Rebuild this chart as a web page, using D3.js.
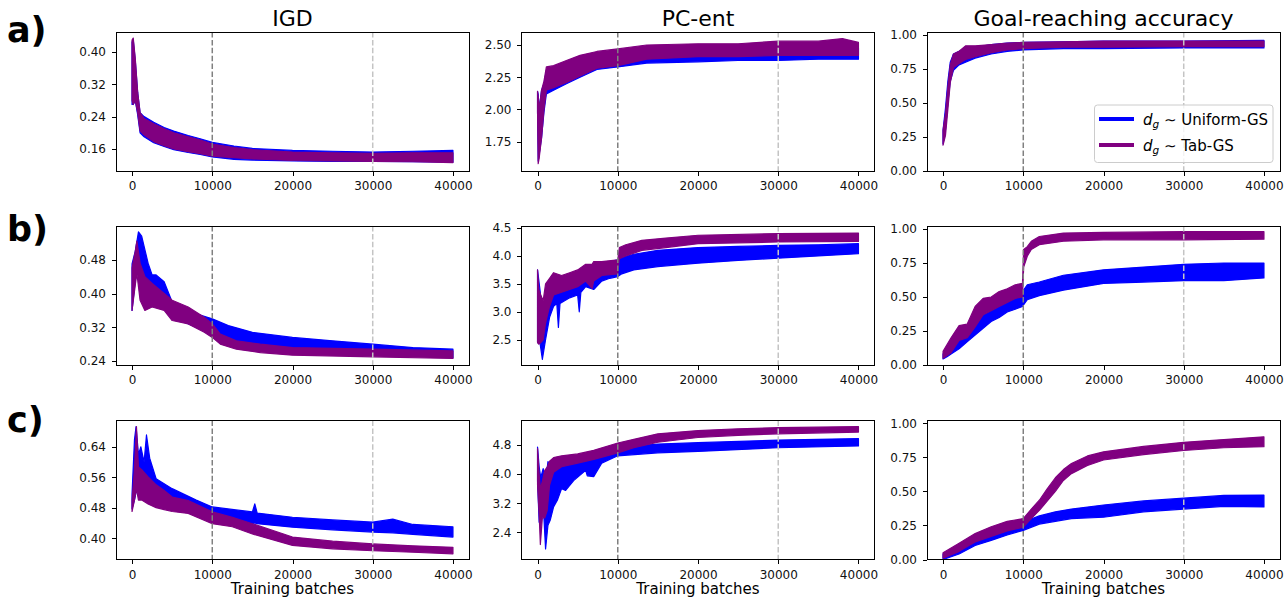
<meta charset="utf-8">
<style>
body { margin: 0; background: #fff; }
svg { font-family: "DejaVu Sans", sans-serif; }
.frame { fill: none; stroke: #000; stroke-width: 1; shape-rendering: crispEdges; }
.axis path { display: none; }
.axis line { stroke: #000; stroke-width: 1; shape-rendering: crispEdges; }
.axis text { font-size: 12px; fill: #111; font-family: "DejaVu Sans", sans-serif; }
</style>
<body>
<div id="chart"></div>
<script src="https://cdn.jsdelivr.net/npm/d3@7"></script>
<script>
// each series is a list of [batch, low edge, high edge]

// ---- row a ----
var igdA_uniform = [[0,0.27,0.425],[150,0.27,0.43],[400,0.28,0.38],[700,0.245,0.30],[1000,0.20,0.25],[1500,0.19,0.24],[2700,0.175,0.226],[4000,0.166,0.213],[5200,0.158,0.204],[7000,0.151,0.193],[8500,0.146,0.185],[10000,0.140,0.176],[12700,0.134,0.167],[15000,0.132,0.161],[20000,0.130,0.156],[25000,0.129,0.154],[30000,0.129,0.152],[35000,0.128,0.154],[40000,0.127,0.156]];
var igdA_tab = [[0,0.28,0.43],[150,0.27,0.435],[400,0.28,0.385],[700,0.25,0.30],[1000,0.205,0.25],[1500,0.195,0.235],[2700,0.178,0.222],[4000,0.168,0.21],[5200,0.16,0.20],[7000,0.153,0.19],[8500,0.148,0.182],[10000,0.142,0.172],[12700,0.138,0.163],[15000,0.135,0.158],[20000,0.131,0.152],[25000,0.130,0.150],[30000,0.129,0.149],[35000,0.128,0.150],[40000,0.126,0.150]];

var pcA_uniform = [[0,1.98,2.14],[80,1.60,2.12],[200,1.65,2.00],[500,1.78,2.15],[800,1.98,2.20],[1100,2.12,2.30],[2000,2.15,2.33],[3600,2.20,2.37],[5300,2.25,2.40],[7400,2.31,2.44],[10000,2.33,2.45],[13600,2.36,2.47],[20000,2.37,2.47],[25000,2.38,2.47],[30000,2.38,2.48],[35000,2.39,2.48],[40000,2.39,2.48]];
var pcA_tab = [[0,1.98,2.14],[80,1.58,2.10],[200,1.62,2.00],[500,1.78,2.15],[800,2.00,2.22],[1100,2.15,2.33],[2000,2.17,2.34],[3600,2.21,2.38],[5300,2.26,2.42],[7400,2.32,2.45],[10000,2.34,2.47],[13600,2.39,2.50],[20000,2.41,2.51],[25000,2.41,2.51],[30000,2.42,2.53],[35000,2.42,2.53],[38000,2.42,2.55],[40000,2.42,2.52]];

var goalA_uniform = [[0,0.20,0.30],[300,0.30,0.46],[600,0.50,0.66],[900,0.66,0.80],[1300,0.74,0.86],[2000,0.78,0.88],[2800,0.80,0.90],[4000,0.83,0.91],[6000,0.86,0.93],[8000,0.88,0.94],[10000,0.89,0.945],[15000,0.90,0.95],[20000,0.90,0.955],[30000,0.905,0.955],[40000,0.905,0.96]];
var goalA_tab = [[0,0.19,0.30],[300,0.26,0.42],[600,0.45,0.62],[900,0.65,0.78],[1300,0.76,0.86],[2000,0.79,0.88],[2800,0.82,0.92],[4000,0.84,0.92],[6000,0.87,0.93],[8000,0.89,0.94],[10000,0.90,0.945],[15000,0.91,0.95],[20000,0.91,0.955],[30000,0.915,0.955],[40000,0.915,0.955]];

// ---- row b ----
var igdB_uniform = [[0,0.36,0.47],[400,0.43,0.50],[800,0.464,0.546],[1200,0.448,0.536],[1600,0.432,0.504],[2000,0.408,0.472],[2500,0.392,0.444],[3000,0.384,0.444],[4000,0.376,0.428],[5000,0.344,0.38],[6000,0.336,0.368],[8000,0.32,0.352],[10000,0.304,0.34],[12000,0.292,0.324],[15000,0.28,0.308],[20000,0.268,0.296],[25000,0.26,0.288],[30000,0.256,0.28],[35000,0.252,0.272],[40000,0.248,0.268]];
var igdB_tab = [[0,0.36,0.46],[400,0.42,0.50],[600,0.448,0.524],[1000,0.384,0.472],[1600,0.36,0.44],[2500,0.368,0.424],[4000,0.36,0.40],[5000,0.336,0.384],[7000,0.328,0.368],[9000,0.308,0.344],[10000,0.296,0.328],[11000,0.28,0.304],[13000,0.268,0.288],[16000,0.26,0.28],[20000,0.254,0.272],[30000,0.25,0.268],[40000,0.246,0.264]];

var pcB_uniform = [[0,2.45,3.75],[300,2.45,3.40],[600,2.15,3.00],[1000,2.50,3.20],[1500,2.90,3.50],[2000,3.10,3.55],[2400,3.15,3.50],[2600,2.72,3.50],[2800,3.15,3.50],[4000,3.25,3.55],[5000,3.30,3.65],[5200,3.00,3.60],[5400,3.35,3.65],[6000,3.45,3.75],[7000,3.40,3.80],[8000,3.55,3.85],[9000,3.60,3.90],[10000,3.63,3.93],[10500,3.68,3.97],[12000,3.75,4.03],[15000,3.81,4.10],[20000,3.87,4.15],[25000,3.92,4.17],[30000,3.96,4.19],[35000,4.00,4.20],[40000,4.04,4.22]];
var pcB_tab = [[0,2.45,3.75],[150,2.42,3.40],[400,2.45,3.30],[700,2.50,3.20],[1000,2.80,3.50],[1500,3.10,3.60],[2000,3.30,3.70],[3000,3.35,3.65],[4000,3.40,3.70],[5000,3.45,3.75],[6000,3.55,3.85],[6800,3.42,3.85],[7000,3.55,3.90],[8000,3.65,3.90],[10000,3.68,3.93],[10200,3.95,4.15],[11000,4.00,4.20],[13000,4.10,4.28],[16000,4.15,4.32],[20000,4.22,4.37],[30000,4.25,4.40],[40000,4.26,4.41]];

var goalB_uniform = [[0,0.045,0.08],[500,0.06,0.13],[1000,0.08,0.155],[2000,0.12,0.20],[3000,0.17,0.27],[4000,0.22,0.32],[5000,0.27,0.365],[6000,0.32,0.40],[7000,0.35,0.45],[8000,0.39,0.48],[9000,0.41,0.51],[9900,0.43,0.54],[10500,0.48,0.59],[12000,0.51,0.61],[15000,0.55,0.66],[20000,0.60,0.70],[25000,0.61,0.72],[30000,0.62,0.74],[35000,0.62,0.75],[40000,0.64,0.75]];
var goalB_tab = [[0,0.05,0.10],[1000,0.09,0.20],[2000,0.18,0.29],[3000,0.20,0.30],[4000,0.28,0.43],[5000,0.37,0.49],[6000,0.40,0.50],[7000,0.43,0.54],[8000,0.46,0.56],[9000,0.49,0.59],[9900,0.50,0.60],[10050,0.72,0.85],[10500,0.80,0.87],[11000,0.85,0.91],[12000,0.885,0.945],[15000,0.91,0.97],[20000,0.92,0.975],[30000,0.92,0.98],[40000,0.925,0.98]];

// ---- row c ----
var igdC_uniform = [[0,0.477,0.517],[300,0.50,0.658],[500,0.52,0.693],[800,0.53,0.62],[1100,0.55,0.64],[1500,0.53,0.60],[1800,0.53,0.671],[2200,0.508,0.61],[3000,0.50,0.556],[5000,0.482,0.53],[8000,0.46,0.50],[10000,0.455,0.482],[15000,0.438,0.469],[15300,0.44,0.49],[15600,0.438,0.466],[20000,0.429,0.455],[25000,0.422,0.448],[30000,0.416,0.442],[32500,0.414,0.45],[35000,0.41,0.436],[40000,0.403,0.43]];
var igdC_tab = [[0,0.47,0.50],[300,0.50,0.58],[550,0.53,0.693],[800,0.50,0.587],[1200,0.50,0.58],[2000,0.49,0.561],[3000,0.48,0.54],[4000,0.475,0.525],[5000,0.47,0.508],[7000,0.465,0.499],[10000,0.438,0.469],[12500,0.43,0.455],[15000,0.411,0.438],[20000,0.381,0.403],[25000,0.372,0.392],[30000,0.367,0.385],[35000,0.363,0.38],[40000,0.359,0.376]];

var pcC_uniform = [[0,3.80,4.74],[200,2.68,4.20],[400,2.90,3.90],[700,3.20,4.15],[1000,1.95,3.80],[1300,2.60,4.34],[1600,2.75,4.20],[2000,3.10,4.30],[2500,3.30,4.40],[3000,3.60,4.45],[3500,3.55,4.45],[4500,3.82,4.45],[6000,4.10,4.50],[6200,3.95,4.50],[7000,3.93,4.55],[8000,4.30,4.60],[10000,4.50,4.74],[15000,4.58,4.82],[20000,4.62,4.86],[30000,4.72,4.93],[40000,4.77,4.97]];
var pcC_tab = [[0,3.70,4.70],[200,2.90,4.00],[350,2.07,3.60],[600,2.80,3.80],[900,2.80,4.10],[1200,3.00,4.19],[1500,3.70,4.35],[2000,4.05,4.45],[3000,4.20,4.50],[5000,4.30,4.55],[7000,4.40,4.65],[10000,4.58,4.85],[12000,4.72,4.95],[15000,4.87,5.10],[20000,5.00,5.19],[25000,5.06,5.24],[30000,5.10,5.27],[40000,5.15,5.30]];

var goalC_uniform = [[0,0.00,0.04],[2000,0.04,0.09],[4000,0.103,0.152],[6000,0.14,0.20],[8000,0.18,0.23],[10000,0.214,0.275],[12000,0.26,0.32],[14000,0.28,0.35],[16000,0.30,0.37],[20000,0.31,0.40],[25000,0.35,0.43],[30000,0.37,0.45],[35000,0.39,0.47],[40000,0.386,0.472]];
var goalC_tab = [[0,0.01,0.05],[2000,0.06,0.12],[4000,0.128,0.19],[6000,0.17,0.24],[8000,0.21,0.28],[10000,0.238,0.30],[11000,0.30,0.37],[12000,0.36,0.435],[13000,0.43,0.52],[14000,0.50,0.60],[15000,0.58,0.66],[16000,0.63,0.705],[18000,0.69,0.76],[20000,0.73,0.79],[25000,0.77,0.83],[30000,0.80,0.86],[35000,0.82,0.88],[40000,0.828,0.90]];

var rowLabels = ["a)", "b)", "c)"];
var colTitles = ["IGD", "PC-ent", "Goal-reaching accuracy"];
var xTicks = [0, 10000, 20000, 30000, 40000];
var phaseLines = [10000, 30000];
var legendLabels = ["Uniform-GS", "Tab-GS"];

var panels = [
  {row: 0, col: 0, y: [0.105, 0.450], ticks: [0.16, 0.24, 0.32, 0.40], fmt: ".2f", uni: igdA_uniform, tab: igdA_tab},
  {row: 0, col: 1, y: [1.523, 2.601], ticks: [1.75, 2.00, 2.25, 2.50], fmt: ".2f", uni: pcA_uniform, tab: pcA_tab},
  {row: 0, col: 2, y: [0, 1.022], ticks: [0, 0.25, 0.5, 0.75, 1.0], fmt: ".2f", uni: goalA_uniform, tab: goalA_tab},
  {row: 1, col: 0, y: [0.2306, 0.56], ticks: [0.24, 0.32, 0.40, 0.48], fmt: ".2f", uni: igdB_uniform, tab: igdB_tab},
  {row: 1, col: 1, y: [2.048, 4.536], ticks: [2.5, 3.0, 3.5, 4.0, 4.5], fmt: ".1f", uni: pcB_uniform, tab: pcB_tab},
  {row: 1, col: 2, y: [0, 1.022], ticks: [0, 0.25, 0.5, 0.75, 1.0], fmt: ".2f", uni: goalB_uniform, tab: goalB_tab},
  {row: 2, col: 0, y: [0.344, 0.709], ticks: [0.40, 0.48, 0.56, 0.64], fmt: ".2f", uni: igdC_uniform, tab: igdC_tab},
  {row: 2, col: 1, y: [1.66, 5.466], ticks: [2.4, 3.2, 4.0, 4.8], fmt: ".1f", uni: pcC_uniform, tab: pcC_tab},
  {row: 2, col: 2, y: [0, 1.02], ticks: [0, 0.25, 0.5, 0.75, 1.0], fmt: ".2f", uni: goalC_uniform, tab: goalC_tab}
];

var colors = {uni: "#0000ff", tab: "#800080"};
var colLeft = [116, 521.5, 927], rowTop = [32, 226, 420.5];
var plotW = 353, plotH = 139;

var svg = d3.select("#chart").append("svg")
    .attr("width", 1286)
    .attr("height", 598);

var x = d3.scaleLinear().domain([-2000, 42000]).range([0, plotW]);

panels.forEach(function(p, i) {
    var g = svg.append("g")
        .attr("transform", "translate(" + colLeft[p.col] + "," + rowTop[p.row] + ")");
    var y = d3.scaleLinear().domain(p.y).range([plotH, 0]);

    g.append("clipPath").attr("id", "clip" + i)
        .append("rect").attr("width", plotW).attr("height", plotH);

    var band = d3.area()
        .x(function(d) { return x(d[0]); })
        .y0(function(d) { return y(d[1]); })
        .y1(function(d) { return y(d[2]); });

    var plot = g.append("g").attr("clip-path", "url(#clip" + i + ")");
    ["uni", "tab"].forEach(function(k) {
        plot.append("path")
            .datum(p[k])
            .attr("d", band)
            .attr("fill", colors[k])
            .attr("stroke", colors[k])
            .attr("stroke-width", 1.2)
            .attr("stroke-linejoin", "round");
    });

    // dashed phase markers
    plot.selectAll(".phase")
        .data(phaseLines)
        .enter().append("line")
        .attr("x1", function(d) { return x(d); })
        .attr("x2", function(d) { return x(d); })
        .attr("y1", 0).attr("y2", plotH)
        .attr("stroke", function(d, j) { return j == 0 ? "#808080" : "#c4c4c4"; })
        .attr("stroke-width", 1.5)
        .attr("stroke-dasharray", "5.5,2.4");

    g.append("g").attr("class", "axis")
        .attr("transform", "translate(0," + plotH + ")")
        .call(d3.axisBottom(x).tickValues(xTicks).tickFormat(d3.format("d"))
            .tickSize(4.5).tickPadding(6));

    g.append("g").attr("class", "axis")
        .call(d3.axisLeft(y).tickValues(p.ticks).tickFormat(d3.format(p.fmt))
            .tickSize(4.5).tickPadding(5.5));

    g.append("rect").attr("class", "frame")
        .attr("width", plotW).attr("height", plotH);

    if (p.row == 2) {
        g.append("text")
            .attr("x", plotW / 2).attr("y", 594 - rowTop[2])
            .attr("text-anchor", "middle")
            .style("font-size", "15px")
            .text("Training batches");
    }
});

// column titles
svg.selectAll(".title")
    .data(colTitles)
    .enter().append("text")
    .attr("x", function(d, i) { return colLeft[i] + plotW / 2; })
    .attr("y", 26)
    .attr("text-anchor", "middle")
    .style("font-size", "22px")
    .text(function(d) { return d; });

// row labels
svg.selectAll(".rowlab")
    .data(rowLabels)
    .enter().append("text")
    .attr("x", 7)
    .attr("y", function(d, i) { return [41.5, 240.5, 432][i]; })
    .style("font-size", "35px")
    .style("font-weight", "bold")
    .text(function(d) { return d; });

// legend in the top right panel
var leg = svg.append("g").attr("transform", "translate(1094.5,105)");
leg.append("rect")
    .attr("width", 178.5).attr("height", 57.5)
    .attr("rx", 3)
    .attr("fill", "#fff").attr("fill-opacity", 0.8)
    .attr("stroke", "#cccccc").attr("stroke-width", 1);

legendLabels.forEach(function(lab, i) {
    var k = i == 0 ? "uni" : "tab";
    var yy = 14 + i * 26;
    leg.append("line")
        .attr("x1", 4.5).attr("x2", 39.5)
        .attr("y1", yy).attr("y2", yy)
        .attr("stroke", colors[k]).attr("stroke-width", 4);
    var t = leg.append("text")
        .attr("x", 48.5).attr("y", yy + 5.5)
        .style("font-size", "15px");
    t.append("tspan").style("font-style", "italic").text("d");
    t.append("tspan").style("font-style", "italic").style("font-size", "10.5px")
        .attr("dy", 3).text("g");
    t.append("tspan").attr("dy", -3).text(" \u223C " + lab);
});
</script>
</body>
